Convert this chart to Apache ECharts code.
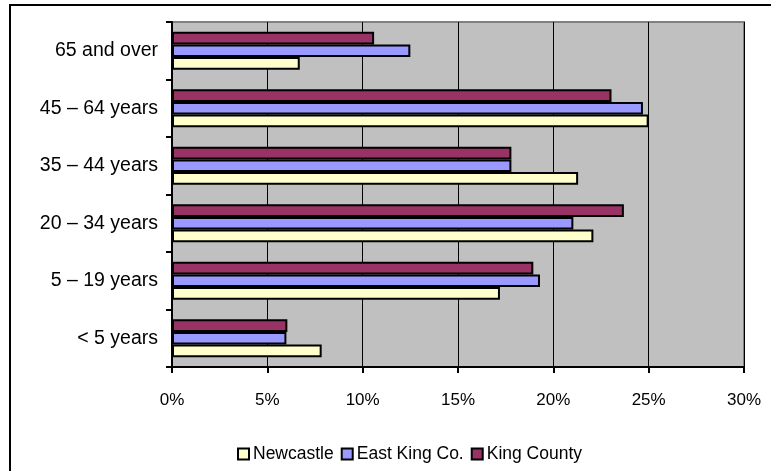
<!DOCTYPE html>
<html><head><meta charset="utf-8">
<script src="https://cdn.jsdelivr.net/npm/echarts@6/dist/echarts.min.js"></script>
<style>html,body{margin:0;padding:0;background:#fff}#c{width:771px;height:471px}</style>
</head><body><div id="c"></div>
<script>
var categories = ['< 5 years', '5 – 19 years', '20 – 34 years', '35 – 44 years', '45 – 64 years', '65 and over'];
var newcastle = [7.85, 17.2, 22.1, 21.3, 25.0, 6.7];
var eastKing = [6.0, 19.3, 21.05, 17.8, 24.7, 12.5];
var kingCounty = [6.05, 18.95, 23.7, 17.8, 23.05, 10.6];
var xTicks = [0, 5, 10, 15, 20, 25, 30];
var legendNames = ['Newcastle', 'East King Co.', 'King County'];

var chart = echarts.init(document.getElementById('c'), null, {renderer: 'canvas'});
var font = 'Liberation Sans, Arial, sans-serif';
function s(name, data, color) {
  return {
    name: name, type: 'bar', data: data, barGap: '0%', barCategoryGap: '34%',
    itemStyle: {color: color, borderColor: '#000', borderWidth: 2},
    emphasis: {disabled: true}
  };
}
chart.setOption({
  animation: false,
  graphic: [{type: 'rect', shape: {x: 10, y: 5, width: 800, height: 500}, style: {fill: 'none', stroke: '#000', lineWidth: 2}}],
  grid: {left: 172, top: 22, right: 27, bottom: 104, show: true, backgroundColor: '#C0C0C0', borderColor: '#808080', borderWidth: 2},
  legend: {
    top: 440, left: 232, itemWidth: 11, itemHeight: 11, itemGap: 7,
    icon: 'rect',
    data: legendNames,
    textStyle: {fontFamily: font, fontSize: 17.5, color: '#000', padding: [0, 0, 0, -1]}
  },
  xAxis: {
    type: 'value', min: xTicks[0], max: xTicks[xTicks.length - 1], interval: 5,
    axisLine: {show: true, lineStyle: {color: '#000', width: 2}},
    axisTick: {show: true, length: 6, lineStyle: {color: '#000', width: 2}},
    splitLine: {show: true, lineStyle: {color: '#000', width: 1}},
    axisLabel: {formatter: '{value}%', fontFamily: font, fontSize: 17, color: '#000', margin: 25}
  },
  yAxis: {
    type: 'category', data: categories,
    axisLine: {show: true, lineStyle: {color: '#000', width: 2}},
    axisTick: {show: true, length: 6, lineStyle: {color: '#000', width: 2}},
    axisLabel: {fontFamily: font, fontSize: 19.5, color: '#000', margin: 14}
  },
  series: [s('King County', kingCounty, '#993366'), s('East King Co.', eastKing, '#9999FF'), s('Newcastle', newcastle, '#FFFFCC')]
});
</script></body></html>
